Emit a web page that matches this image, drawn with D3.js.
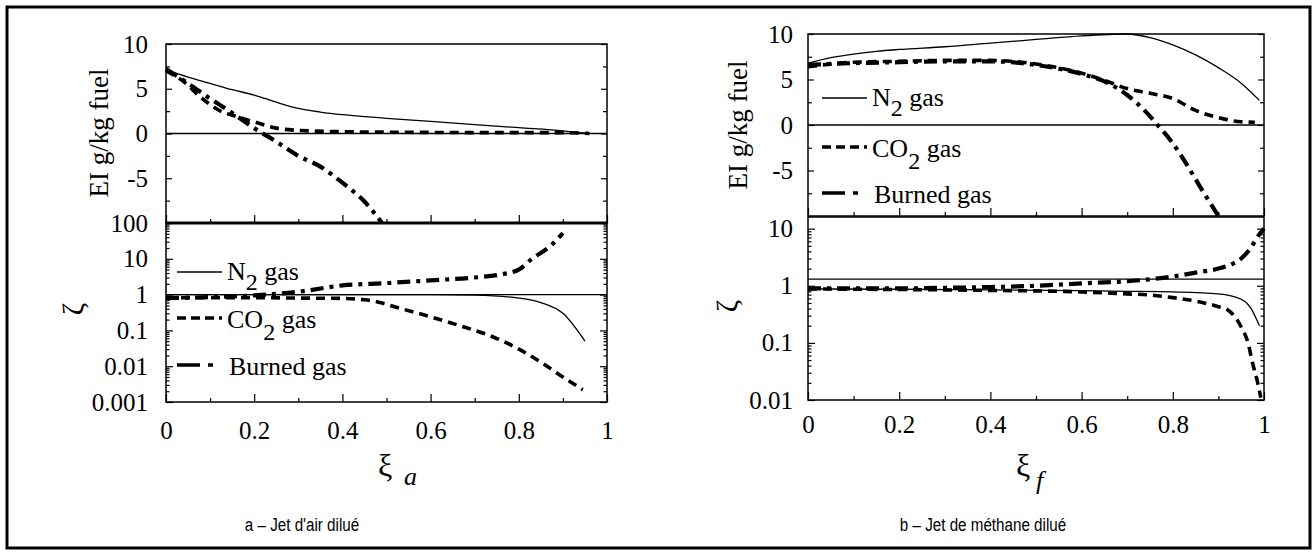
<!DOCTYPE html>
<html><head><meta charset="utf-8">
<script src="https://cdn.jsdelivr.net/npm/d3@7"></script>
<style>body{margin:0;background:#fff}svg{display:block}</style>
</head><body>
<svg id="c" width="1316" height="559"></svg>
<script>
// ---------- data ----------
const xTicks = [0, 0.2, 0.4, 0.6, 0.8, 1];
const xTickLabels = ["0", "0.2", "0.4", "0.6", "0.8", "1"];
const xMinor = [0.1, 0.3, 0.5, 0.7, 0.9];
const eiTicks = [10, 5, 0, -5];
const eiTickLabels = ["10", "5", "0", "-5"];
const eiMinor = [-10, -7.5, -2.5, 2.5, 7.5];
const zetaTicksA = [100, 10, 1, 0.1, 0.01, 0.001];
const zetaTickLabelsA = ["100", "10", "1", "0.1", "0.01", "0.001"];
const zetaTicksB = [10, 1, 0.1, 0.01];
const zetaTickLabelsB = ["10", "1", "0.1", "0.01"];
const seriesNames = ["N2 gas", "CO2 gas", "Burned gas"];
const captions = ["a \u2013 Jet d'air dilu\u00e9", "b \u2013 Jet de m\u00e9thane dilu\u00e9"];

// panel a: EI
const eiA_N2_x = [0, 0.05, 0.1, 0.15, 0.2, 0.25, 0.3, 0.35, 0.4, 0.5, 0.6, 0.7, 0.8, 0.9, 0.95];
const eiA_N2 = [7.1, 6.3, 5.6, 4.9, 4.3, 3.5, 2.8, 2.4, 2.1, 1.7, 1.35, 1.0, 0.65, 0.3, 0.05];
const eiA_CO2_x = [0, 0.04, 0.08, 0.12, 0.16, 0.2, 0.25, 0.3, 0.4, 0.5, 0.6, 0.7, 0.8, 0.9, 0.96];
const eiA_CO2 = [7.0, 5.8, 4.0, 2.6, 1.9, 1.3, 0.6, 0.35, 0.2, 0.15, 0.12, 0.1, 0.1, 0.1, 0];
const eiA_BG_x = [0, 0.05, 0.1, 0.15, 0.2, 0.25, 0.3, 0.35, 0.4, 0.45, 0.49];
const eiA_BG = [7.2, 5.6, 3.9, 2.3, 0.6, -0.9, -2.5, -3.7, -5.5, -7.6, -10];
// panel a: zeta
const zA_N2_x = [0, 0.1, 0.2, 0.3, 0.4, 0.5, 0.6, 0.7, 0.8, 0.85, 0.9, 0.95];
const zA_N2 = [1, 1, 1, 1, 1, 1, 1, 0.97, 0.8, 0.6, 0.3, 0.05];
const zA_CO2_x = [0, 0.1, 0.2, 0.3, 0.4, 0.45, 0.485, 0.52, 0.6, 0.68, 0.73, 0.8, 0.85, 0.9, 0.945];
const zA_CO2 = [0.82, 0.82, 0.82, 0.8, 0.78, 0.72, 0.6, 0.45, 0.24, 0.12, 0.075, 0.03, 0.013, 0.005, 0.0022];
const zA_BG_x = [0, 0.1, 0.2, 0.3, 0.4, 0.5, 0.6, 0.7, 0.75, 0.8, 0.83, 0.87, 0.9];
const zA_BG = [0.8, 0.85, 0.95, 1.2, 1.8, 2.1, 2.5, 3.0, 3.5, 5, 10, 22, 52];
const zA_ref = 1;
// panel b: EI
const eiB_N2_x = [0, 0.05, 0.1, 0.15, 0.2, 0.3, 0.4, 0.5, 0.6, 0.7, 0.75, 0.8, 0.85, 0.9, 0.95, 0.99];
const eiB_N2 = [6.8, 7.4, 7.8, 8.1, 8.3, 8.6, 9.0, 9.4, 9.8, 10, 9.6, 8.8, 7.7, 6.3, 4.6, 2.7];
const eiB_CO2_x = [0, 0.05, 0.1, 0.2, 0.3, 0.4, 0.5, 0.6, 0.65, 0.7, 0.75, 0.8, 0.85, 0.9, 0.95, 0.98];
const eiB_CO2 = [6.4, 6.7, 6.9, 7.0, 7.1, 7.1, 6.7, 5.7, 4.9, 4.0, 3.5, 2.9, 1.6, 0.8, 0.35, 0.3];
const eiB_BG_x = [0, 0.1, 0.2, 0.3, 0.4, 0.5, 0.6, 0.65, 0.7, 0.74, 0.77, 0.8, 0.83, 0.86, 0.9];
const eiB_BG = [6.6, 6.8, 6.9, 7.0, 7.0, 6.6, 5.6, 4.8, 3.3, 1.5, -0.2, -2.0, -4.3, -6.8, -10];
// panel b: zeta
const zB_N2_x = [0, 0.2, 0.4, 0.6, 0.7, 0.8, 0.9, 0.95, 0.97, 0.99];
const zB_N2 = [0.88, 0.87, 0.85, 0.82, 0.8, 0.78, 0.72, 0.58, 0.42, 0.2];
const zB_CO2_x = [0, 0.2, 0.4, 0.6, 0.7, 0.75, 0.8, 0.86, 0.9, 0.92, 0.95, 0.965, 0.975, 0.985, 0.993];
const zB_CO2 = [0.88, 0.86, 0.83, 0.78, 0.72, 0.69, 0.62, 0.52, 0.43, 0.38, 0.19, 0.1, 0.044, 0.022, 0.011];
const zB_BG_x = [0, 0.1, 0.2, 0.3, 0.4, 0.5, 0.6, 0.7, 0.75, 0.8, 0.85, 0.9, 0.93, 0.95, 0.97, 0.99, 1.0];
const zB_BG = [0.9, 0.9, 0.9, 0.92, 0.95, 1.0, 1.1, 1.2, 1.3, 1.45, 1.7, 2.0, 2.4, 3.0, 4.5, 8, 10];
const zB_ref = 1.31;

// ---------- drawing ----------
const svg = d3.select("#c");
const SERIF = "'Liberation Serif','Times New Roman',serif";
const styles = [
  {w: 1.3, dash: null},
  {w: 3.6, dash: "9,6"},
  {w: 4.2, dash: "13,6,4,6"}
];

svg.append("rect").attr("x", 7).attr("y", 7).attr("width", 1303).attr("height", 541)
  .attr("fill", "none").attr("stroke", "#000").attr("stroke-width", 3);

const panels = [
  {x0: 166, x1: 607, topY: [44, 223], botY: [223, 402], zDomain: [0.001, 100],
   zTicks: zetaTicksA, zLabels: zetaTickLabelsA, zRef: zA_ref, lblPad: 18, xPad: 19,
   ei: [[eiA_N2_x, eiA_N2], [eiA_CO2_x, eiA_CO2], [eiA_BG_x, eiA_BG]],
   z: [[zA_N2_x, zA_N2], [zA_CO2_x, zA_CO2], [zA_BG_x, zA_BG]],
   legend: {x: 177, ys: [272, 318, 365], inBottom: true},
   eiLabel: [99, 133], zLabel: [72, 309], xi: [378, 476, "a", 404, 485],
   caption: [302, captions[0]], sepW: 3},
  {x0: 808, x1: 1264, topY: [34, 216], botY: [217, 400], zDomain: [0.01, 16],
   zTicks: zetaTicksB, zLabels: zetaTickLabelsB, zRef: zB_ref, lblPad: 15, xPad: 15,
   ei: [[eiB_N2_x, eiB_N2], [eiB_CO2_x, eiB_CO2], [eiB_BG_x, eiB_BG]],
   z: [[zB_N2_x, zB_N2], [zB_CO2_x, zB_CO2], [zB_BG_x, zB_BG]],
   legend: {x: 822, ys: [98, 147, 193], inBottom: false},
   eiLabel: [738, 125], zLabel: [726, 306], xi: [1016, 476, "f", 1036, 489],
   caption: [983, captions[1]], sepW: 1.5}
];

function styleAxis(g, size) {
  g.select(".domain").remove();
  g.selectAll("line").attr("stroke", "#000").attr("stroke-width", 1.2);
  g.selectAll("text").attr("font-family", SERIF).attr("font-size", size).attr("fill", "#000");
}

panels.forEach(p => {
  const x = d3.scaleLinear().domain([0, 1]).range([p.x0, p.x1]);
  const yEI = d3.scaleLinear().domain([-10, 10]).range(p.topY.slice().reverse());
  const yZ = d3.scaleLog().domain(p.zDomain).range(p.botY.slice().reverse());

  // reference lines
  svg.append("line").attr("x1", p.x0).attr("x2", p.x1).attr("y1", yEI(0)).attr("y2", yEI(0))
    .attr("stroke", "#000").attr("stroke-width", 1.3);
  svg.append("line").attr("x1", p.x0).attr("x2", p.x1).attr("y1", yZ(p.zRef)).attr("y2", yZ(p.zRef))
    .attr("stroke", "#000").attr("stroke-width", 1.3);

  // boxes
  [p.topY, p.botY].forEach(yy => {
    svg.append("rect").attr("x", p.x0).attr("y", yy[0]).attr("width", p.x1 - p.x0).attr("height", yy[1] - yy[0])
      .attr("fill", "none").attr("stroke", "#000").attr("stroke-width", 1.5);
  });
  if (p.sepW > 2) {
    svg.append("line").attr("x1", p.x0).attr("x2", p.x1).attr("y1", p.topY[1]).attr("y2", p.topY[1])
      .attr("stroke", "#000").attr("stroke-width", p.sepW);
  }

  // x ticks (inward) on bottom of both panels
  [p.topY[1], p.botY[1]].forEach(yb => {
    svg.append("g").attr("transform", `translate(0,${yb})`)
      .call(d3.axisBottom(x).tickValues(xTicks).tickSize(-8).tickFormat("")).call(g => styleAxis(g, 0));
    svg.append("g").attr("transform", `translate(0,${yb})`)
      .call(d3.axisBottom(x).tickValues(xMinor).tickSize(-4).tickFormat("")).call(g => styleAxis(g, 0));
  });
  // x tick labels
  svg.append("g").attr("transform", `translate(0,${p.botY[1]})`)
    .call(d3.axisBottom(x).tickValues(xTicks).tickSize(0).tickPadding(p.xPad)
      .tickFormat((d, i) => xTickLabels[i])).call(g => styleAxis(g, 25));

  // EI y axis
  svg.append("g").attr("transform", `translate(${p.x0},0)`)
    .call(d3.axisLeft(yEI).tickValues(eiTicks).tickSize(0).tickPadding(p.lblPad)
      .tickFormat((d, i) => eiTickLabels[i])).call(g => styleAxis(g, 25));
  [[p.x0, d3.axisLeft], [p.x1, d3.axisRight]].forEach(([xx, ax]) => {
    svg.append("g").attr("transform", `translate(${xx},0)`)
      .call(ax(yEI).tickValues(eiTicks).tickSize(-6).tickFormat("")).call(g => styleAxis(g, 0));
    svg.append("g").attr("transform", `translate(${xx},0)`)
      .call(ax(yEI).tickValues(eiMinor).tickSize(-4).tickFormat("")).call(g => styleAxis(g, 0));
  });

  // zeta y axis
  svg.append("g").attr("transform", `translate(${p.x0},0)`)
    .call(d3.axisLeft(yZ).tickValues(p.zTicks).tickSize(0).tickPadding(p.lblPad)
      .tickFormat((d, i) => p.zLabels[i])).call(g => styleAxis(g, 25));
  const minors = [];
  p.zTicks.forEach(t => { for (let k = 2; k <= 9; k++) { const v = t * k; if (v < p.zDomain[1]) minors.push(v); } });
  [[p.x0, d3.axisLeft], [p.x1, d3.axisRight]].forEach(([xx, ax]) => {
    svg.append("g").attr("transform", `translate(${xx},0)`)
      .call(ax(yZ).tickValues(p.zTicks).tickSize(-7).tickFormat("")).call(g => styleAxis(g, 0));
    svg.append("g").attr("transform", `translate(${xx},0)`)
      .call(ax(yZ).tickValues(minors).tickSize(-3.5).tickFormat("")).call(g => styleAxis(g, 0));
  });

  // data lines
  p.ei.forEach((s, i) => {
    const line = d3.line().x(d => x(d[0])).y(d => yEI(d[1])).curve(d3.curveMonotoneX);
    svg.append("path").attr("d", line(d3.zip(s[0], s[1]))).attr("fill", "none")
      .attr("stroke", "#000").attr("stroke-width", styles[i].w)
      .attr("stroke-dasharray", styles[i].dash);
  });
  p.z.forEach((s, i) => {
    const line = d3.line().x(d => x(d[0])).y(d => yZ(d[1])).curve(d3.curveMonotoneX);
    svg.append("path").attr("d", line(d3.zip(s[0], s[1]))).attr("fill", "none")
      .attr("stroke", "#000").attr("stroke-width", styles[i].w)
      .attr("stroke-dasharray", styles[i].dash);
  });

  // legend
  const L = p.legend;
  const legDash = [null, "9,5", "23,8,5,20"];
  seriesNames.forEach((name, i) => {
    const y = L.ys[i];
    const len = i === 2 ? 41 : 45;
    svg.append("line").attr("x1", L.x).attr("x2", L.x + len).attr("y1", y).attr("y2", y)
      .attr("stroke", "#000").attr("stroke-width", i === 0 ? 1.3 : 3.6)
      .attr("stroke-dasharray", legDash[i]);
    const t = svg.append("text").attr("x", L.x + 50 + (i === 2 ? 2 : 0)).attr("y", y + (i === 0 ? 8 : 10))
      .attr("font-family", SERIF).attr("font-size", 26).attr("fill", "#000");
    if (i === 0) {
      t.append("tspan").text("N");
      t.append("tspan").attr("dy", 10).attr("font-size", 24).text("2");
      t.append("tspan").attr("dy", -10).text(" gas");
    } else if (i === 1) {
      t.append("tspan").text("CO");
      t.append("tspan").attr("dy", 12).attr("font-size", 24).text("2");
      t.append("tspan").attr("dy", -12).text(" gas");
    } else {
      t.text("Burned gas");
    }
  });

  // axis titles
  svg.append("text").attr("transform", `translate(${p.eiLabel[0]},${p.eiLabel[1]}) rotate(-90)`)
    .attr("text-anchor", "middle").attr("dy", "0.35em")
    .attr("font-family", SERIF).attr("font-size", 27).text("EI g/kg fuel");
  svg.append("text").attr("transform", `translate(${p.zLabel[0]},${p.zLabel[1]}) rotate(-90)`)
    .attr("text-anchor", "middle").attr("dy", "0.35em")
    .attr("font-family", SERIF).attr("font-size", 30).text("\u03b6");
  svg.append("text").attr("x", p.xi[0]).attr("y", p.xi[1])
    .attr("font-family", SERIF).attr("font-size", 32).text("\u03be");
  svg.append("text").attr("x", p.xi[3]).attr("y", p.xi[4])
    .attr("font-family", SERIF).attr("font-style", "italic").attr("font-size", 26).text(p.xi[2]);

  // caption (condensed sans)
  svg.append("text").attr("transform", `translate(${p.caption[0]},531) scale(0.8,1)`)
    .attr("text-anchor", "middle")
    .attr("font-family", "'Liberation Sans',Arial,sans-serif").attr("font-size", 19).text(p.caption[1]);
});
</script>
</body></html>
